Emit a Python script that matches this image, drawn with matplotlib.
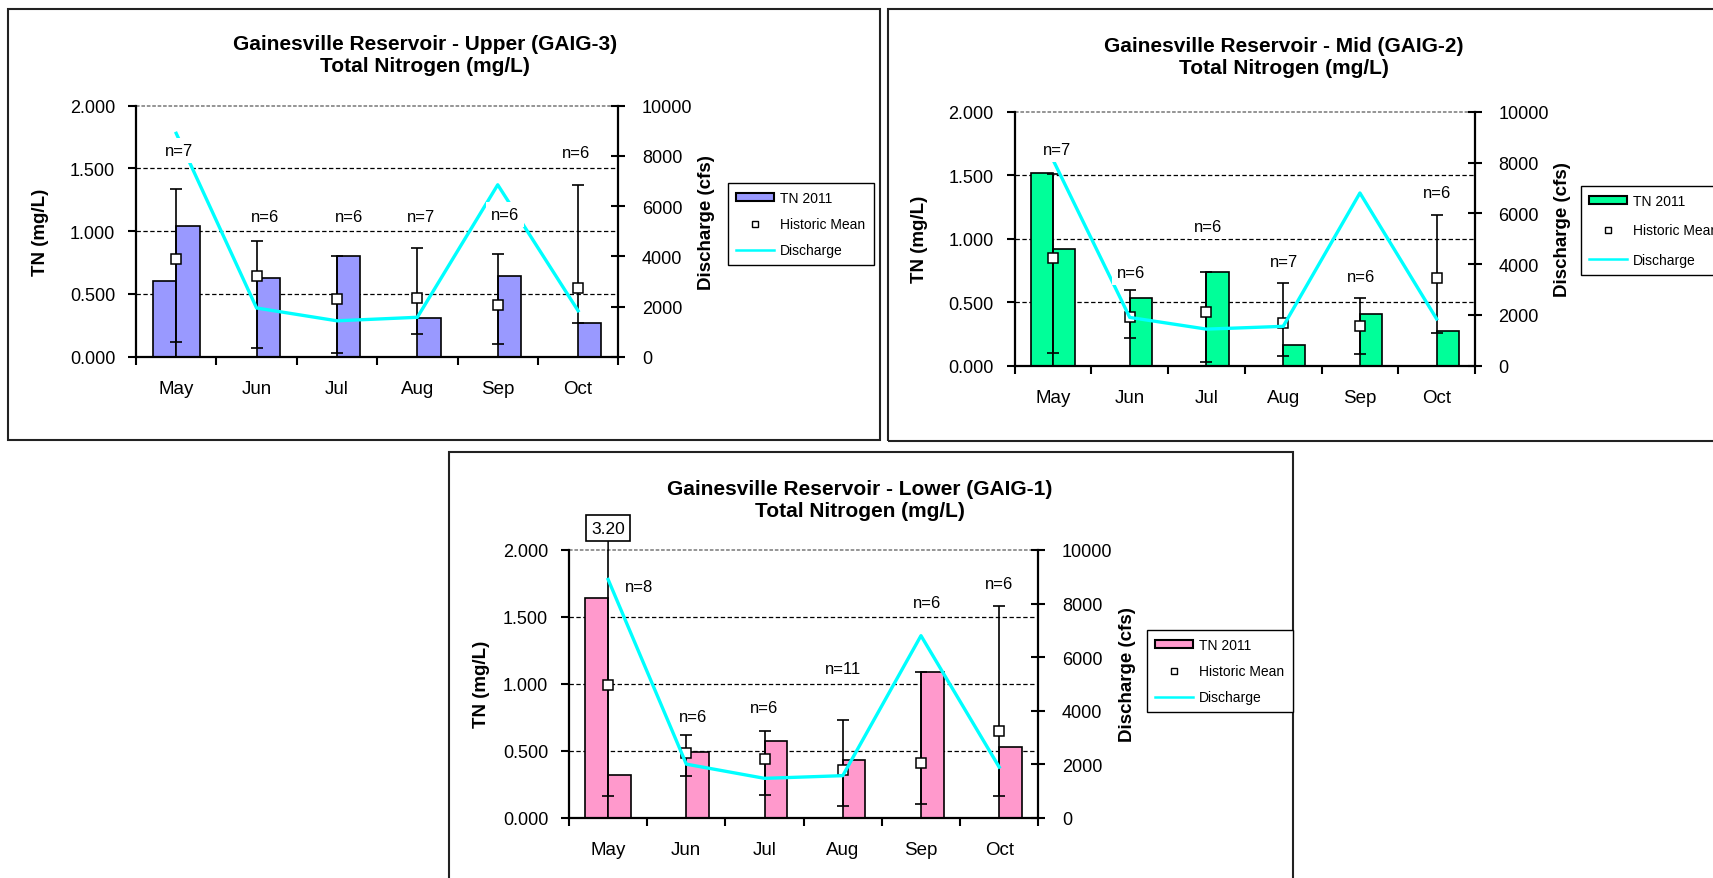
import matplotlib
matplotlib.use("Agg")
import matplotlib.pyplot as plt
import numpy as np
from matplotlib.lines import Line2D
from matplotlib.patches import Patch, Rectangle

plt.rcParams["font.family"] = ["Liberation Sans", "DejaVu Sans"]

W, H = 1713, 879
nan = np.nan

months = ["May", "Jun", "Jul", "Aug", "Sep", "Oct"]

# Upper (GAIG-3)
upper_tn_a = [0.60, nan, nan, nan, nan, nan]
upper_tn = [1.04, 0.63, 0.80, 0.31, 0.64, 0.27]
upper_mean = [0.78, 0.64, 0.46, 0.47, 0.41, 0.55]
upper_low = [0.12, 0.07, 0.03, 0.18, 0.10, 0.27]
upper_high = [1.34, 0.92, 0.80, 0.87, 0.82, 1.37]
upper_q = [8900, 1940, 1430, 1570, 6850, 1830]
upper_n = ["n=7", "n=6", "n=6", "n=7", "n=6", "n=6"]

# Mid (GAIG-2)
mid_tn_a = [1.52, nan, nan, nan, nan, nan]
mid_tn = [0.92, 0.53, 0.74, 0.16, 0.41, 0.27]
mid_mean = [0.85, 0.38, 0.42, 0.34, 0.31, 0.69]
mid_low = [0.10, 0.22, 0.03, 0.08, 0.09, 0.26]
mid_high = [1.51, 0.60, 0.735, 0.65, 0.53, 1.19]
mid_q = [8100, 1900, 1440, 1550, 6800, 1840]
mid_n = ["n=7", "n=6", "n=6", "n=7", "n=6", "n=6"]

# Lower (GAIG-1)
lower_tn_a = [1.64, nan, nan, nan, nan, nan]
lower_tn = [0.32, 0.49, 0.57, 0.43, 1.09, 0.53]
lower_mean = [0.99, 0.48, 0.44, 0.36, 0.41, 0.65]
lower_low = [0.16, 0.31, 0.17, 0.09, 0.10, 0.16]
lower_high = [3.20, 0.62, 0.65, 0.73, 1.09, 1.58]
lower_q = [8900, 2000, 1470, 1570, 6800, 1890]
lower_n = ["n=8", "n=6", "n=6", "n=11", "n=6", "n=6"]

# label placement (category offset, TN-axis height)
upper_n_dx = [0.04, 0.11, 0.15, 0.05, 0.09, -0.02]
upper_n_y = [1.64, 1.12, 1.115, 1.12, 1.13, 1.63]
mid_n_dx = [0.05, 0.02, 0.02, 0.01, 0.01, 0.01]
mid_n_y = [1.70, 0.73, 1.095, 0.82, 0.70, 1.36]
lower_n_dx = [0.39, 0.085, 0.0, 0.0, 0.08, 0.0]
lower_n_y = [1.726, 0.755, 0.82, 1.116, 1.61, 1.75]

CYAN = "#00FFFF"
BAR_W = 0.29


def px_rect(x0, y0, x1, y1):
    """pixel box (top-left origin) -> figure fraction [l, b, w, h]"""
    return [x0 / W, 1 - y1 / H, (x1 - x0) / W, (y1 - y0) / H]


def draw_panel(fig, ax_px, title, title_xy, color, tn_a, tn, mean, low, high, q,
               n_txt, n_dx, n_y, tn_lab_x, q_lab_x, leg_xy, leg_spacing):
    ax = fig.add_axes(px_rect(*ax_px))
    x = np.arange(len(months))

    ax.bar(x - BAR_W / 2, tn_a, width=BAR_W, color=color, edgecolor="black", lw=1.2, zorder=2)
    ax.bar(x + BAR_W / 2, tn, width=BAR_W, color=color, edgecolor="black", lw=1.2, zorder=2)
    mean = np.array(mean)
    yerr = [mean - np.array(low), np.array(high) - mean]
    ax.errorbar(x, mean, yerr=yerr, fmt="none", ecolor="black", elinewidth=1.2,
                capsize=4, capthick=1.2, zorder=3)
    ax.plot(x, mean, ls="none", marker="s", ms=7, mfc="white", mec="black", mew=1.1, zorder=4)

    for yy in (0.5, 1.0, 1.5):
        ax.axhline(yy, color="black", lw=0.9, ls=(0, (3.5, 2)), zorder=1)
    ax.axhline(2.0, color="#8c8c8c", lw=1.3, ls=(0, (2, 1)), zorder=1, clip_on=False)

    ax.set_xlim(-0.5, len(months) - 0.5)
    ax.set_ylim(0, 2.0)
    ax.set_yticks([0, 0.5, 1.0, 1.5, 2.0])
    ax.set_yticklabels([f"{v:.3f}" for v in [0, 0.5, 1.0, 1.5, 2.0]], fontsize=13)
    ax.set_xticks(np.arange(len(months) + 1) - 0.5)
    ax.set_xticklabels([])
    ax.set_xticks(x, minor=True)
    ax.set_xticklabels(months, minor=True, fontsize=13.5)
    ax.tick_params(axis="x", which="major", direction="out", length=6, width=1.5)
    ax.tick_params(axis="x", which="minor", length=0, pad=17)
    ax.tick_params(axis="y", direction="out", length=6, width=1.5, pad=9)
    for s in ("left", "bottom"):
        ax.spines[s].set_linewidth(1.6)
    ax.spines["top"].set_visible(False)
    ax.spines["right"].set_visible(False)
    ax.text(tn_lab_x, 0.5, "TN (mg/L)", transform=ax.transAxes, rotation=90,
            ha="center", va="center", fontsize=13.5, fontweight="bold")

    ax2 = ax.twinx()
    ax2.plot(x, q, color=CYAN, lw=2.4, zorder=2)
    ax2.set_ylim(0, 10000)
    ax2.set_yticks(range(0, 10001, 2000))
    ax2.set_yticklabels([str(v) for v in range(0, 10001, 2000)], fontsize=13)
    ax2.tick_params(axis="y", direction="inout", length=10, width=1.5, pad=12)
    for s in ("left", "bottom", "top"):
        ax2.spines[s].set_visible(False)
    ax2.spines["right"].set_linewidth(1.6)
    ax2.text(q_lab_x, 0.54, "Discharge (cfs)", transform=ax2.transAxes, rotation=90,
             ha="center", va="center", fontsize=13.5, fontweight="bold")

    for i, lab in enumerate(n_txt):
        ax2.text(i + n_dx[i], n_y[i], lab, transform=ax.transData, ha="center", va="center",
                 fontsize=12, zorder=5,
                 bbox=dict(boxstyle="square,pad=0.3", fc="white", ec="none"))

    fig.text(title_xy[0] / W, 1 - title_xy[1] / H, title, ha="center", va="center",
             fontsize=15, fontweight="bold", linespacing=1.2)

    handles = [
        Patch(facecolor=color, edgecolor="black", lw=1.5),
        Line2D([], [], ls="none", marker="s", ms=5, mfc="white", mec="black", mew=1.0),
        Line2D([], [], color=CYAN, lw=1.8),
    ]
    fig.legend(handles, ["TN 2011", "Historic Mean", "Discharge"], loc="upper left",
               bbox_to_anchor=(leg_xy[0] / W, 1 - leg_xy[1] / H), bbox_transform=fig.transFigure,
               borderaxespad=0, fontsize=10, frameon=True, fancybox=False, framealpha=1,
               edgecolor="black", handlelength=2.7, handleheight=0.5, handletextpad=0.45,
               labelspacing=leg_spacing, borderpad=0.6)
    return ax, ax2


fig = plt.figure(figsize=(W / 100, H / 100), dpi=100)

# outer chart frames
for r in [(7.5, 9.5, 880, 440.7), (887.7, 10, 1730, 441.7), (449, 453.3, 1293.3, 900)]:
    fig.add_artist(Rectangle((r[0] / W, 1 - r[3] / H), (r[2] - r[0]) / W, (r[3] - r[1]) / H,
                             transform=fig.transFigure, fill=False, edgecolor="#222222", lw=1.5))

draw_panel(fig, (136, 106.7, 618.3, 357.7),
           "Gainesville Reservoir - Upper (GAIG-3)\nTotal Nitrogen (mg/L)", (425, 56),
           "#9999FF", upper_tn_a, upper_tn, upper_mean, upper_low, upper_high, upper_q,
           upper_n, upper_n_dx, upper_n_y, -0.199, 1.182, (728, 184), 0.85)

draw_panel(fig, (1014.7, 112.7, 1475, 366.7),
           "Gainesville Reservoir - Mid (GAIG-2)\nTotal Nitrogen (mg/L)", (1284, 57.5),
           "#00FF99", mid_tn_a, mid_tn, mid_mean, mid_low, mid_high, mid_q,
           mid_n, mid_n_dx, mid_n_y, -0.206, 1.191, (1581, 186.7), 1.1)

ax3, _ = draw_panel(fig, (569, 551, 1038.3, 818.7),
                    "Gainesville Reservoir - Lower (GAIG-1)\nTotal Nitrogen (mg/L)", (860, 500.5),
                    "#FF99CC", lower_tn_a, lower_tn, lower_mean, lower_low, lower_high, lower_q,
                    lower_n, lower_n_dx, lower_n_y, -0.1875, 1.191, (1147, 631), 0.85)

# off-scale historic max for May at the lower site
ax3.annotate(f"{lower_high[0]:.2f}", xy=(0, 2.0), xycoords="data",
             xytext=(0, 1.082), textcoords=("data", "axes fraction"),
             ha="center", va="center", fontsize=12.5, annotation_clip=False,
             bbox=dict(boxstyle="square,pad=0.3", fc="white", ec="black", lw=1.2),
             arrowprops=dict(arrowstyle="-", color="black", lw=1.1, shrinkA=0, shrinkB=0))

fig.savefig("out.png", dpi=100)
plt.close(fig)
